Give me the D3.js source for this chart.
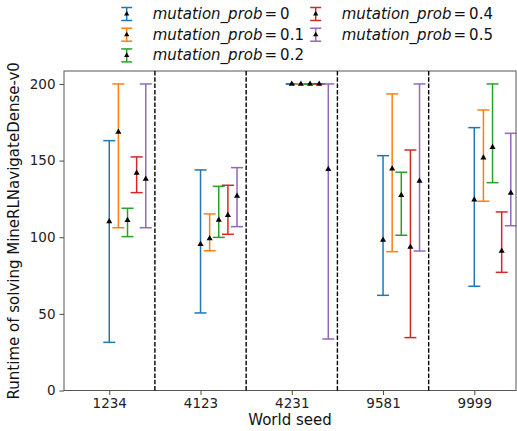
<!DOCTYPE html>
<html><head><meta charset="utf-8">
<script src="https://cdn.jsdelivr.net/npm/d3@7"></script>
<style>body{margin:0;background:#fff}svg{display:block}text{font-family:"DejaVu Sans",sans-serif}</style>
</head><body>
<svg id="c" width="517" height="431"></svg>
<script>
const seeds = ["1234","4123","4231","9581","9999"];
const probs = ["0","0.1","0.2","0.4","0.5"];
const colors = ["#1f77b4","#ff7f0e","#2ca02c","#d62728","#9467bd"];
// per series (mutation_prob), per seed: mean, lower, upper
const means = [
  [110.2, 95.4, 200, 98.2, 124.5],
  [168.7, 99.1, 200, 144.7, 151.9],
  [111.0, 111.3, 200, 127.4, 158.7],
  [141.9, 114.3, 200, 93.6, 91.0],
  [138.0, 126.9, 144.3, 136.7, 128.9]
];
const lows = [
  [31.4, 50.6, 200, 62.1, 68.0],
  [106.2, 91.2, 200, 90.6, 123.5],
  [100.4, 99.9, 200, 101.3, 135.6],
  [129.1, 101.9, 200, 34.5, 77.1],
  [106.2, 106.9, 33.6, 91.0, 107.5]
];
const highs = [
  [163.0, 143.9, 200, 153.2, 171.5],
  [200, 115.2, 200, 193.5, 183.0],
  [118.9, 133.2, 200, 142.4, 200],
  [152.4, 133.9, 200, 156.9, 116.5],
  [200, 145.4, 200, 200, 167.8]
];
const yTicks = [0, 50, 100, 150, 200];
const separators = [0.5, 1.5, 2.5, 3.5];
const seriesOffset = 0.1;

const svg = d3.select("#c");
const L = 64, R = 516, T = 71, B = 390.5;
const x = d3.scaleLinear().domain([-0.496, 4.457]).range([L, R]);
const y = d3.scaleLinear().domain([0, 208.45]).range([B, T]);

// axes
const yAxis = svg.append("g").attr("transform", `translate(${L},0)`)
  .call(d3.axisLeft(y).tickValues(yTicks).tickSize(4.5).tickPadding(4));
const xAxis = svg.append("g").attr("transform", `translate(0,${B})`)
  .call(d3.axisBottom(x).tickValues(d3.range(seeds.length)).tickFormat(i => seeds[i]).tickSize(4.5).tickPadding(3.5));
[yAxis, xAxis].forEach(g => {
  g.select(".domain").remove();
  g.selectAll("line").attr("stroke", "#333").attr("stroke-width", 0.9);
  g.selectAll("text").attr("font-size", 13.5).attr("fill", "#222");
});
// frame
svg.append("rect").attr("x", L).attr("y", T).attr("width", R - L).attr("height", B - T)
  .attr("fill", "none").attr("stroke", "#555").attr("stroke-width", 1);

// separators
svg.append("g").selectAll("line").data(separators).join("line")
  .attr("x1", d => x(d)).attr("x2", d => x(d)).attr("y1", T).attr("y2", B)
  .attr("stroke", "#000").attr("stroke-width", 1.4).attr("stroke-dasharray", "4.5,1.8");

// error bars
const cap = 6;
probs.forEach((p, j) => {
  const g = svg.append("g");
  const data = seeds.map((s, i) => ({xi: i + j * seriesOffset, m: means[j][i], lo: lows[j][i], hi: highs[j][i]}));
  g.selectAll(".v").data(data).join("line")
    .attr("x1", d => x(d.xi)).attr("x2", d => x(d.xi)).attr("y1", d => y(d.lo)).attr("y2", d => y(d.hi))
    .attr("stroke", colors[j]).attr("stroke-width", 1.5);
  ["lo", "hi"].forEach(k => {
    g.selectAll(".c" + k).data(data).join("line")
      .attr("x1", d => x(d.xi) - cap).attr("x2", d => x(d.xi) + cap)
      .attr("y1", d => y(d[k])).attr("y2", d => y(d[k]))
      .attr("stroke", colors[j]).attr("stroke-width", 1.5);
  });
});
probs.forEach((p, j) => {
  const data = seeds.map((s, i) => ({xi: i + j * seriesOffset, m: means[j][i]}));
  svg.append("g").selectAll("path").data(data).join("path")
    .attr("d", d3.symbol(d3.symbolTriangle, 16))
    .attr("transform", d => `translate(${x(d.xi)},${y(d.m)})`)
    .attr("fill", "#000");
});

// axis labels
svg.append("text").attr("x", (L + R) / 2).attr("y", 425).attr("text-anchor", "middle")
  .attr("font-size", 15).attr("fill", "#111").text("World seed");
svg.append("text").attr("transform", `translate(18.5,${(T + B) / 2}) rotate(-90)`).attr("text-anchor", "middle")
  .attr("font-size", 15).attr("fill", "#111").text("Runtime of solving MineRLNavigateDense-v0");

// legend
const legPos = [[126.7, 14], [126.7, 34.7], [126.7, 55.4], [315.7, 14], [315.7, 34.7]];
probs.forEach((p, j) => {
  const [hx, hy] = legPos[j];
  const g = svg.append("g").attr("transform", `translate(${hx},${hy})`);
  g.append("line").attr("x1", 0).attr("x2", 0).attr("y1", -6.5).attr("y2", 6.5).attr("stroke", colors[j]).attr("stroke-width", 1.5);
  [-6.5, 6.5].forEach(v => g.append("line").attr("x1", -5.5).attr("x2", 5.5).attr("y1", v).attr("y2", v).attr("stroke", colors[j]).attr("stroke-width", 1.5));
  g.append("path").attr("d", d3.symbol(d3.symbolTriangle, 12)).attr("fill", "#000");
  const t = g.append("text").attr("x", 26).attr("y", 5).attr("font-size", 15).attr("fill", "#111");
  t.append("tspan").attr("font-style", "italic").text("mutation_prob");
  t.append("tspan").attr("dx", 2).text("=");
  t.append("tspan").attr("dx", 3).text(p);
});
</script>
</body></html>
